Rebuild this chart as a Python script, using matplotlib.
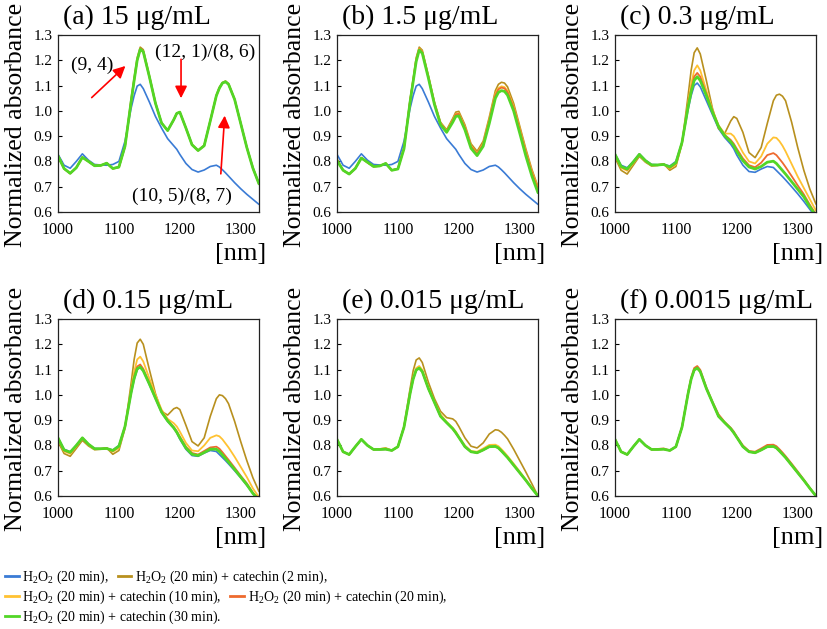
import matplotlib
matplotlib.use('Agg')
import matplotlib.pyplot as plt
from matplotlib.lines import Line2D

plt.rcParams['font.family'] = ['Liberation Serif', 'DejaVu Serif']
plt.rcParams['mathtext.fontset'] = 'custom'
plt.rcParams['mathtext.rm'] = 'Liberation Serif'
plt.rcParams['mathtext.it'] = 'Liberation Serif:italic'

# wavelength grid [nm]
wl = [1000, 1010, 1020, 1030, 1040, 1050, 1060, 1070, 1080, 1090, 1100, 1110, 1120, 1125,
      1130, 1135, 1140, 1150, 1160, 1170, 1180, 1190, 1195, 1200, 1210, 1220, 1230, 1240,
      1250, 1260, 1265, 1270, 1275, 1280, 1290, 1300, 1310, 1320, 1330]

# (a) 15 ug/mL and (b) 1.5 ug/mL
a_h2o2 = [0.828, 0.785, 0.773, 0.800, 0.830, 0.805, 0.788, 0.786, 0.785, 0.788, 0.800, 0.880, 1.010, 1.060,
          1.098, 1.105, 1.088, 1.035, 0.978, 0.932, 0.890, 0.862, 0.848, 0.828, 0.792, 0.768, 0.758, 0.766,
          0.780, 0.785, 0.778, 0.767, 0.755, 0.742, 0.716, 0.692, 0.670, 0.650, 0.630]
a_cat2 = [0.820, 0.770, 0.752, 0.775, 0.817, 0.800, 0.783, 0.784, 0.794, 0.771, 0.776, 0.858, 1.048, 1.130,
          1.210, 1.252, 1.242, 1.140, 1.033, 0.953, 0.922, 0.963, 0.991, 0.995, 0.933, 0.867, 0.844, 0.864,
          0.962, 1.062, 1.094, 1.112, 1.118, 1.108, 1.046, 0.952, 0.857, 0.776, 0.712]
a_cat = [0.822, 0.772, 0.753, 0.775, 0.816, 0.800, 0.783, 0.784, 0.793, 0.772, 0.778, 0.860, 1.035, 1.120,
         1.200, 1.243, 1.234, 1.135, 1.030, 0.952, 0.922, 0.965, 0.990, 0.995, 0.932, 0.866, 0.843, 0.862,
         0.960, 1.060, 1.090, 1.110, 1.115, 1.105, 1.045, 0.950, 0.855, 0.773, 0.711]
b_cat2 = [0.810, 0.765, 0.750, 0.772, 0.815, 0.795, 0.780, 0.782, 0.793, 0.765, 0.772, 0.855, 1.045, 1.125,
          1.210, 1.252, 1.240, 1.140, 1.035, 0.955, 0.925, 0.970, 0.995, 0.998, 0.945, 0.870, 0.840, 0.880,
          0.975, 1.080, 1.105, 1.113, 1.110, 1.095, 1.030, 0.940, 0.850, 0.768, 0.700]
b_cat10 = [0.806, 0.765, 0.750, 0.772, 0.814, 0.796, 0.780, 0.782, 0.792, 0.765, 0.771, 0.852, 1.040, 1.120,
           1.203, 1.246, 1.234, 1.135, 1.030, 0.950, 0.920, 0.962, 0.988, 0.990, 0.937, 0.862, 0.832, 0.870,
           0.965, 1.068, 1.090, 1.097, 1.094, 1.079, 1.018, 0.930, 0.840, 0.760, 0.695]
b_cat20 = [0.805, 0.765, 0.750, 0.772, 0.814, 0.796, 0.780, 0.782, 0.792, 0.765, 0.771, 0.852, 1.038, 1.118,
           1.200, 1.244, 1.232, 1.133, 1.028, 0.948, 0.918, 0.960, 0.986, 0.988, 0.934, 0.860, 0.830, 0.867,
           0.960, 1.062, 1.085, 1.092, 1.089, 1.074, 1.013, 0.925, 0.835, 0.755, 0.690]
b_cat30 = [0.803, 0.765, 0.750, 0.772, 0.813, 0.797, 0.780, 0.782, 0.792, 0.765, 0.770, 0.850, 1.035, 1.115,
           1.195, 1.240, 1.228, 1.130, 1.025, 0.945, 0.915, 0.955, 0.978, 0.980, 0.925, 0.852, 0.823, 0.860,
           0.950, 1.050, 1.073, 1.080, 1.077, 1.062, 1.000, 0.912, 0.822, 0.742, 0.676]

# (c) 0.3 ug/mL
c_h2o2 = [0.830, 0.785, 0.775, 0.800, 0.830, 0.805, 0.788, 0.787, 0.788, 0.782, 0.800, 0.875, 1.005, 1.060,
          1.100, 1.110, 1.095, 1.040, 0.985, 0.930, 0.895, 0.868, 0.850, 0.825, 0.785, 0.760, 0.757, 0.770,
          0.780, 0.776, 0.764, 0.752, 0.740, 0.727, 0.700, 0.672, 0.642, 0.610, 0.578]
c_cat2 = [0.815, 0.765, 0.750, 0.785, 0.820, 0.797, 0.782, 0.784, 0.790, 0.765, 0.780, 0.870, 1.060, 1.160,
          1.230, 1.249, 1.225, 1.120, 1.010, 0.930, 0.910, 0.960, 0.977, 0.970, 0.915, 0.835, 0.815, 0.855,
          0.950, 1.040, 1.062, 1.066, 1.058, 1.040, 0.955, 0.855, 0.765, 0.690, 0.631]
c_cat10 = [0.822, 0.775, 0.763, 0.793, 0.826, 0.800, 0.784, 0.786, 0.789, 0.772, 0.788, 0.872, 1.030, 1.105,
           1.160, 1.180, 1.160, 1.080, 1.005, 0.943, 0.910, 0.910, 0.900, 0.880, 0.835, 0.800, 0.792, 0.820,
           0.870, 0.895, 0.893, 0.880, 0.862, 0.840, 0.790, 0.740, 0.695, 0.650, 0.605]
c_cat20 = [0.826, 0.778, 0.767, 0.796, 0.828, 0.802, 0.785, 0.786, 0.789, 0.775, 0.792, 0.875, 1.020, 1.085,
           1.135, 1.150, 1.135, 1.068, 1.000, 0.940, 0.905, 0.885, 0.870, 0.850, 0.812, 0.785, 0.777, 0.795,
           0.825, 0.833, 0.825, 0.810, 0.795, 0.778, 0.742, 0.705, 0.670, 0.628, 0.590]
c_cat30 = [0.828, 0.780, 0.770, 0.798, 0.828, 0.803, 0.786, 0.786, 0.788, 0.778, 0.795, 0.875, 1.015, 1.075,
           1.120, 1.135, 1.120, 1.060, 0.995, 0.938, 0.902, 0.878, 0.862, 0.840, 0.803, 0.778, 0.770, 0.780,
           0.797, 0.801, 0.792, 0.778, 0.764, 0.750, 0.720, 0.690, 0.660, 0.620, 0.585]

# (d) 0.15 ug/mL
d_cat2 = [0.815, 0.768, 0.757, 0.788, 0.820, 0.798, 0.783, 0.785, 0.790, 0.765, 0.780, 0.868, 1.045, 1.140,
          1.205, 1.220, 1.200, 1.100, 1.005, 0.935, 0.920, 0.945, 0.950, 0.942, 0.880, 0.815, 0.798, 0.830,
          0.915, 0.985, 1.000, 0.997, 0.985, 0.965, 0.895, 0.815, 0.740, 0.672, 0.618]
d_cat10 = [0.825, 0.777, 0.767, 0.796, 0.828, 0.802, 0.785, 0.786, 0.789, 0.775, 0.790, 0.873, 1.022, 1.090,
           1.140, 1.151, 1.132, 1.065, 1.000, 0.942, 0.905, 0.888, 0.875, 0.855, 0.810, 0.780, 0.777, 0.800,
           0.830, 0.840, 0.836, 0.824, 0.808, 0.792, 0.755, 0.715, 0.675, 0.630, 0.595]
d_cat20 = [0.828, 0.780, 0.771, 0.799, 0.830, 0.804, 0.786, 0.787, 0.789, 0.778, 0.795, 0.875, 1.012, 1.072,
           1.112, 1.120, 1.103, 1.048, 0.990, 0.935, 0.900, 0.873, 0.856, 0.835, 0.795, 0.770, 0.764, 0.778,
           0.792, 0.795, 0.787, 0.773, 0.758, 0.743, 0.712, 0.680, 0.650, 0.613, 0.588]
d_cat30 = [0.830, 0.782, 0.773, 0.800, 0.830, 0.805, 0.787, 0.787, 0.788, 0.780, 0.797, 0.875, 1.008, 1.065,
           1.103, 1.110, 1.095, 1.043, 0.987, 0.932, 0.897, 0.870, 0.852, 0.830, 0.790, 0.765, 0.760, 0.772,
           0.785, 0.785, 0.776, 0.762, 0.748, 0.734, 0.705, 0.675, 0.645, 0.610, 0.585]

# (e) 0.015 ug/mL and (f) 0.0015 ug/mL
e_cat2 = [0.822, 0.774, 0.763, 0.794, 0.824, 0.800, 0.784, 0.786, 0.790, 0.780, 0.795, 0.875, 1.025, 1.095,
          1.138, 1.146, 1.128, 1.050, 0.985, 0.935, 0.910, 0.905, 0.895, 0.875, 0.830, 0.797, 0.790, 0.810,
          0.845, 0.862, 0.860, 0.852, 0.840, 0.826, 0.785, 0.740, 0.695, 0.648, 0.600]
e_cat10 = [0.824, 0.775, 0.764, 0.795, 0.824, 0.800, 0.784, 0.786, 0.788, 0.780, 0.795, 0.873, 1.010, 1.068,
           1.106, 1.114, 1.099, 1.030, 0.973, 0.923, 0.893, 0.870, 0.855, 0.835, 0.800, 0.778, 0.775, 0.788,
           0.802, 0.803, 0.797, 0.785, 0.772, 0.758, 0.728, 0.697, 0.665, 0.632, 0.600]
e_cat30 = [0.824, 0.775, 0.764, 0.795, 0.824, 0.800, 0.784, 0.784, 0.785, 0.780, 0.795, 0.872, 1.005, 1.062,
           1.098, 1.106, 1.092, 1.025, 0.970, 0.915, 0.890, 0.866, 0.850, 0.832, 0.795, 0.775, 0.771, 0.782,
           0.795, 0.796, 0.790, 0.778, 0.765, 0.752, 0.722, 0.692, 0.662, 0.630, 0.600]

titles = ['(a) 15 μg/mL', '(b) 1.5 μg/mL', '(c) 0.3 μg/mL',
          '(d) 0.15 μg/mL', '(e) 0.015 μg/mL', '(f) 0.0015 μg/mL']
series = [
    [a_h2o2, a_cat2, a_cat, a_cat, a_cat],
    [a_h2o2, b_cat2, b_cat10, b_cat20, b_cat30],
    [c_h2o2, c_cat2, c_cat10, c_cat20, c_cat30],
    [c_h2o2, d_cat2, d_cat10, d_cat20, d_cat30],
    [e_cat30, e_cat2, e_cat10, e_cat30, e_cat30],
    [e_cat30, e_cat30, e_cat30, e_cat10, e_cat30],
]
labels = [r'H$_2$O$_2$ (20 min),',
          r'H$_2$O$_2$ (20 min) + catechin (2 min),',
          r'H$_2$O$_2$ (20 min) + catechin (10 min),',
          r'H$_2$O$_2$ (20 min) + catechin (20 min),',
          r'H$_2$O$_2$ (20 min) + catechin (30 min).']
colors = ['#3A7BD5', '#B8901E', '#FFC232', '#EE6A2E', '#52D626']
widths = [1.2, 1.2, 1.3, 1.3, 2.0]

W, H = 827, 629
fig = plt.figure(figsize=(W / 100, H / 100), dpi=100)

lefts = [58, 337, 615]
tops = [35, 319]
aw, ah = 201, 177

axes = []
for i in range(6):
    l = lefts[i % 3]
    t = tops[i // 3]
    ax = fig.add_axes([l / W, 1 - (t + ah) / H, aw / W, ah / H])
    for ys, c, w in zip(series[i], colors, widths):
        ax.plot(wl, ys, color=c, lw=w, solid_capstyle='round')
    ax.set_xlim(1000, 1330)
    ax.set_ylim(0.6, 1.3)
    ax.set_xticks([1000, 1100, 1200, 1300])
    ax.set_yticks([0.6, 0.7, 0.8, 0.9, 1.0, 1.1, 1.2, 1.3])
    ax.set_yticklabels(['%.1f' % v for v in ax.get_yticks()])
    ax.tick_params(axis='x', length=0, pad=7, labelsize=11.5)
    ax.tick_params(axis='y', direction='in', length=3, width=0.8, pad=4, labelsize=11)
    for s in ax.spines.values():
        s.set_linewidth(0.9)
        s.set_color('#222222')
    ax.text(0.025, 1.03, titles[i], transform=ax.transAxes, ha='left', va='bottom', fontsize=20)
    ax.text(-0.21, 0.49, 'Normalized absorbance', transform=ax.transAxes, rotation=90,
            ha='center', va='center', fontsize=18.5)
    ax.text(1.035, -0.24, '[nm]', transform=ax.transAxes, ha='right', va='center', fontsize=19)
    axes.append(ax)

# peak assignments in (a)
ax = axes[0]
arrow = dict(arrowstyle='-|>', color='red', lw=1.2, mutation_scale=18)
ax.text(1056, 1.181, '(9, 4)', ha='center', va='center', fontsize=14)
ax.annotate('', xy=(1114, 1.185), xytext=(1052, 1.045), arrowprops=arrow)
ax.text(1241, 1.231, '(12, 1)/(8, 6)', ha='center', va='center', fontsize=14)
ax.annotate('', xy=(1202, 1.039), xytext=(1202, 1.215), arrowprops=arrow)
ax.text(1204, 0.663, '(10, 5)/(8, 7)', ha='center', va='center', fontsize=14)
ax.annotate('', xy=(1274, 0.992), xytext=(1267, 0.74), arrowprops=arrow)

handles = [Line2D([], [], color=c, lw=2) for c in colors]
rows = [[0, 1], [2, 3], [4]]
row_y = [577, 597, 617]
for r, y in zip(rows, row_y):
    fig.legend([handles[k] for k in r], [labels[k] for k in r], ncol=len(r),
               loc='center left', bbox_to_anchor=(5 / W, 1 - y / H), frameon=False,
               fontsize=10, handlelength=1.0, handletextpad=0.25, columnspacing=0.6,
               borderpad=0, borderaxespad=0)

fig.savefig('out.png', dpi=100)
